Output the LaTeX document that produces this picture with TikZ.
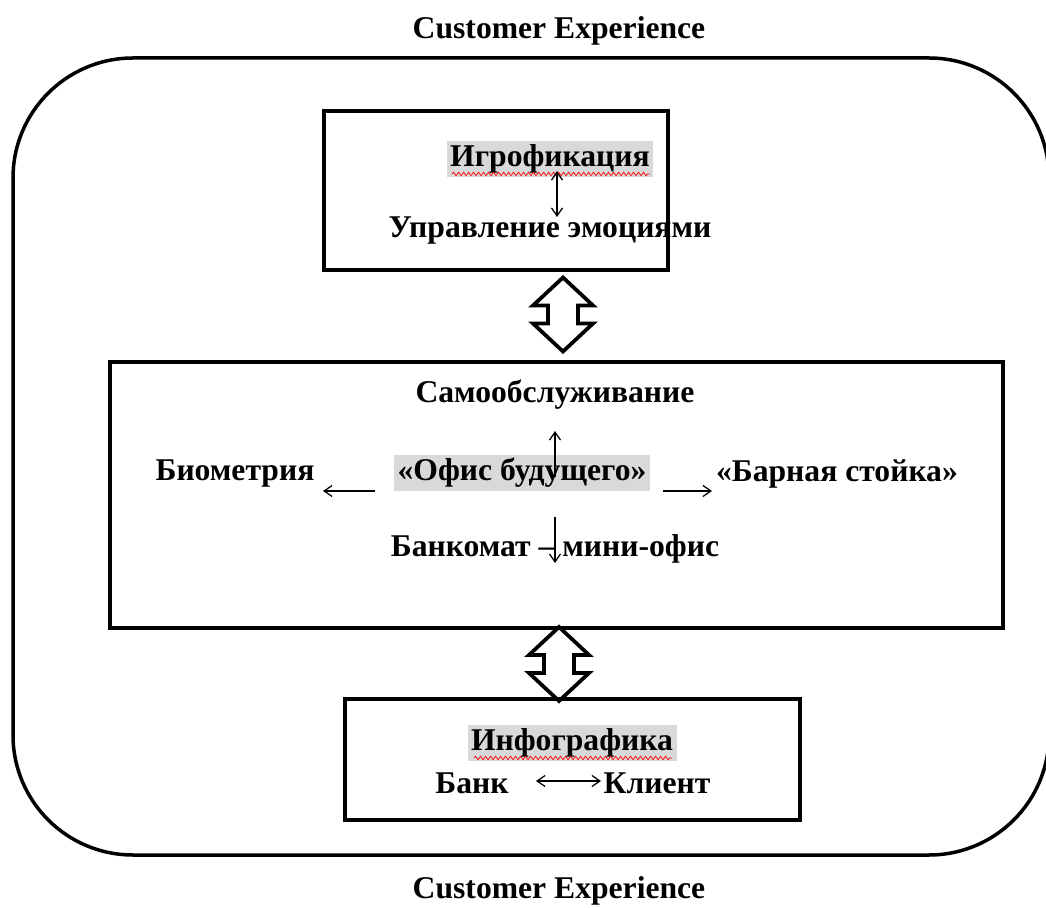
\documentclass[tikz,border=0pt]{standalone}
\usepackage{fontspec}
\setmainfont{Liberation Serif}
\usetikzlibrary{arrows.meta,decorations.pathmorphing}

\begin{document}
\begin{tikzpicture}[x=0.2mm, y=-0.2mm,
        every node/.style = {font=\bfseries\fontsize{18}{21}\selectfont, inner sep=1pt},
        framebox/.style 2 args = {draw, line width=0.9mm, inner sep=0pt, minimum width=#1, minimum height=#2},
        marked/.style = {fill=gray!30, inner sep=2pt},
        spell/.style = {red, line width=0.4pt, decorate, decoration={snake, amplitude=0.35mm, segment length=1mm}},
        link/.style = {line width=0.25mm, -{Straight Barb[length=1.6mm,width=2.2mm]}},
        bothlink/.style = {line width=0.25mm, {Straight Barb[length=1.6mm,width=2.2mm]}-{Straight Barb[length=1.6mm,width=2.2mm]}},
        twoway/.pic = {\draw[line width=0.75mm, line join=miter]
            (0,-37) -- (30,-9) -- (15,-9) -- (15,9) -- (30,9) -- (0,37)
            -- (-30,9) -- (-15,9) -- (-15,-9) -- (-30,-9) -- cycle;}]
    \useasboundingbox (0,0) rectangle (1046,908);
    % outer frame
    \draw[line width=0.7mm, rounded corners=24mm] (13,58) rectangle (1049,855);
    \node (cxtop) at (559,31) {Customer Experience};
    \node (cxbot) at (559,891) {Customer Experience};
    % boxes
    \node[framebox={68.8mm}{31.8mm}] (gamebox) at (496,190.5) {};
    \node[framebox={178.6mm}{53.2mm}] (selfbox) at (556.5,495) {};
    \node[framebox={91mm}{24.2mm}] (infobox) at (572.5,759.5) {};
    % top box
    \node[marked] (game) at (550,159) {Игрофикация};
    \node (emo) at (550,231) {Управление эмоциями};
    \draw[spell] (452,174) -- (650,174);
    \coordinate (g1) at (557,171);
    \coordinate (g2) at (557,217);
    \draw[bothlink] (g1) -- (g2);
    % middle box
    \node (self) at (555,395) {Самообслуживание};
    \node[marked] (office) at (522,473) {«Офис будущего»};
    \node (bio) at (235,474) {Биометрия};
    \node (bar) at (837,474) {«Барная стойка»};
    \node (atm) at (555,549) {Банкомат – мини-офис};
    \coordinate (up1) at (555,477);
    \coordinate (up2) at (555,431);
    \coordinate (dn1) at (555,517);
    \coordinate (dn2) at (555,563);
    \coordinate (lt1) at (375,491);
    \coordinate (lt2) at (323,491);
    \coordinate (rt1) at (663,491);
    \coordinate (rt2) at (712,491);
    \draw[link] (up1) -- (up2);
    \draw[link] (dn1) -- (dn2);
    \draw[link] (lt1) -- (lt2);
    \draw[link] (rt1) -- (rt2);
    % bottom box
    \node[marked] (info) at (572,743) {Инфографика};
    \draw[spell] (474,758) -- (672,758);
    \node (bank) at (472,783) {Банк};
    \node (client) at (657,783) {Клиент};
    \coordinate (b1) at (536,781);
    \coordinate (b2) at (601,781);
    \draw[bothlink] (b1) -- (b2);
    % block arrows between the boxes
    \pic at (563,314.5) {twoway};
    \pic at (559,664) {twoway};
\end{tikzpicture}
\end{document}
